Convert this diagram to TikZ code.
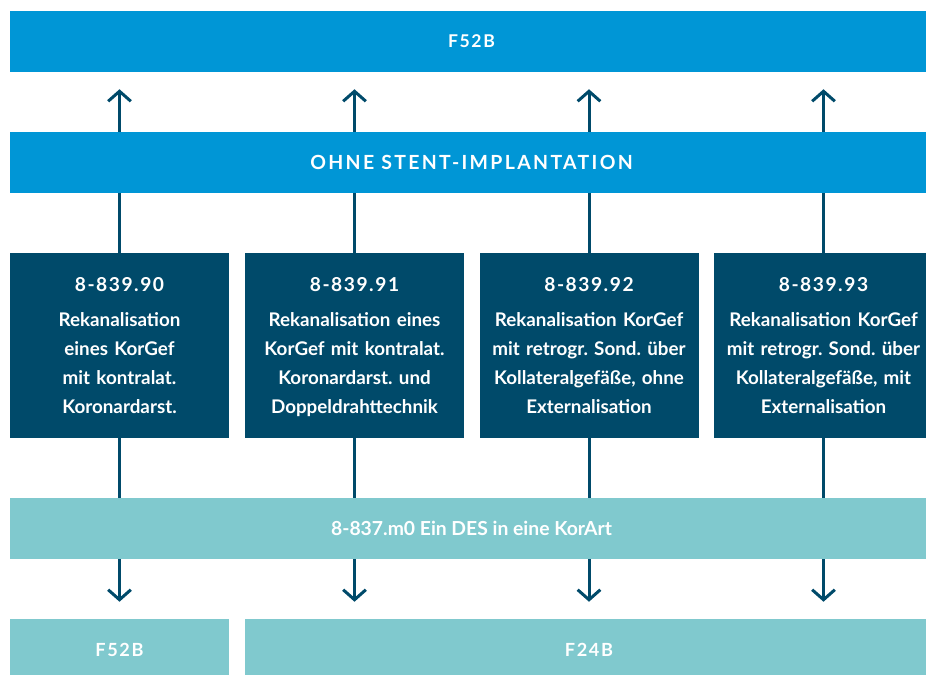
\documentclass[tikz,border=0pt]{standalone}
\usepackage{fontspec}
\setmainfont{Lato}
\usetikzlibrary{arrows.meta,backgrounds}
\definecolor{topblue}{RGB}{0,150,214}
\definecolor{navy}{RGB}{0,74,106}
\definecolor{lightteal}{RGB}{128,201,206}
\frenchspacing

\begin{document}
\begin{tikzpicture}[x=0.75pt, y=-0.75pt,
   wide/.style={fill=topblue, text=white, inner sep=0pt,
      minimum width=692.25pt, minimum height=45.75pt,
      font=\bfseries\fontsize{13.2}{15}\selectfont\addfontfeature{LetterSpace=9}},
   code/.style={fill=navy, text=white, inner sep=0pt, align=center,
      minimum width=164.25pt, minimum height=138.75pt, text width=162pt,
      font=\bfseries\fontsize{14.1}{21.75}\selectfont},
   flow/.style={draw=navy, line width=2.25pt, -{Straight Barb[length=7.5pt,width=17pt]}}]
   % frame
   \useasboundingbox (0,0) rectangle (926,675);

   % bars
   \node[wide] (top) at (471.5,41.5) {F52B};
   \node[wide, font=\bfseries\fontsize{14.6}{16}\selectfont\addfontfeature{LetterSpace=12}] (ohne)
      at (471.5,162.5) {OHNE STENT-IMPLANTATION};

   % codes
   \node[code] (c90) at (119.5,345.5) {{\bfseries\fontsize{14.4}{16}\selectfont\addfontfeature{LetterSpace=8}8-839.90}\\[5pt]
      Rekanalisation\\eines KorGef\\mit kontralat.\\Koronardarst.};
   \node[code] (c91) at (354.5,345.5) {{\bfseries\fontsize{14.4}{16}\selectfont\addfontfeature{LetterSpace=8}8-839.91}\\[5pt]
      Rekanalisation eines\\KorGef mit kontralat.\\Koronardarst. und\\\smash{Doppeldrahttechnik}};
   \node[code] (c92) at (589,345.5) {{\bfseries\fontsize{14.4}{16}\selectfont\addfontfeature{LetterSpace=8}8-839.92}\\[5pt]
      Rekanalisation KorGef\\mit retrogr. Sond. über\\Kollateralgefäße, ohne\\Externalisation};
   \node[code] (c93) at (823.5,345.5) {{\bfseries\fontsize{14.4}{16}\selectfont\addfontfeature{LetterSpace=8}8-839.93}\\[5pt]
      Rekanalisation KorGef\\mit retrogr. Sond. über\\Kollateralgefäße, mit\\Externalisation};

   % des
   \node[wide, fill=lightteal, font=\bfseries\fontsize{14.5}{16}\selectfont] (des) at (471.5,528.5)
      {8-837.m0 Ein DES in eine KorArt};

   % drg
   \node[wide, fill=lightteal, minimum width=164.25pt,
      font=\bfseries\fontsize{13.6}{15}\selectfont\addfontfeature{LetterSpace=9}] (fl) at (119.5,649.5) {F52B};
   \node[wide, fill=lightteal, minimum width=516pt,
      font=\bfseries\fontsize{13.6}{15}\selectfont\addfontfeature{LetterSpace=9}] (fr) at (589,649.5) {F24B};

   % arrows
   \begin{scope}[on background layer]
      \foreach \c in {c90,c91,c92,c93}{%
         \draw[flow, shorten >=12.75pt] (\c.north) -- (top.south -| \c.north);
      }
      \draw[flow, shorten >=12.75pt] (c90.south) -- (fl.north -| c90.south);
      \foreach \c in {c91,c92,c93}{%
         \draw[flow, shorten >=12.75pt] (\c.south) -- (fr.north -| \c.south);
      }
   \end{scope}
\end{tikzpicture}
\end{document}
